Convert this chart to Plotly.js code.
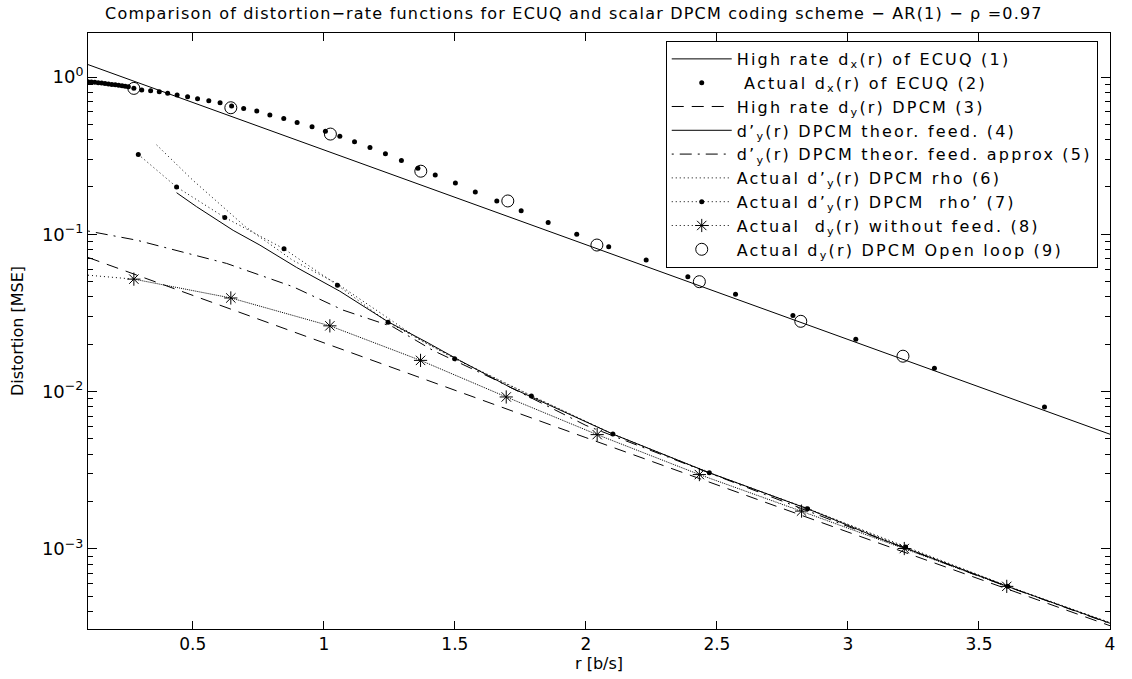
<!DOCTYPE html>
<html><head><meta charset="utf-8">
<script src="https://cdn.plot.ly/plotly-3.0.1.min.js"></script>
<style>
html,body{margin:0;padding:0;background:#fff}
text.legendtext{letter-spacing:2.2px}
text.gtitle{letter-spacing:1.2px}
</style>
</head><body><div id="chart" style="width:1132px;height:679px"></div>
<script>
// (1) High rate d_x(r) of ECUQ
const r1 = [0.1, 1.0, 2.0, 3.0, 4.0];
const d1 = [1.20, 0.344, 0.0861, 0.0215, 0.00536];
// (2) Actual d_x(r) of ECUQ
const r2 = [0.100,0.113,0.126,0.139,0.152,0.165,0.178,0.191,0.204,0.217,0.230,0.242,0.254,0.275,0.305,0.339,0.372,0.404,0.440,0.480,0.518,0.561,0.604,0.648,0.694,0.744,0.794,0.847,0.898,0.955,1.006,1.061,1.117,1.176,1.235,1.296,1.359,1.425,1.502,1.578,1.660,1.753,1.856,1.965,2.087,2.230,2.389,2.571,2.79,3.03,3.33,3.75];
const d2 = [0.935,0.930,0.925,0.920,0.915,0.910,0.904,0.898,0.892,0.886,0.880,0.874,0.867,0.850,0.827,0.818,0.806,0.788,0.768,0.749,0.728,0.707,0.687,0.654,0.632,0.608,0.573,0.546,0.515,0.483,0.452,0.420,0.388,0.357,0.325,0.295,0.263,0.238,0.212,0.186,0.163,0.141,0.119,0.100,0.0834,0.0687,0.0537,0.0416,0.0305,0.0215,0.0141,0.0080];
// (3) High rate d_y(r) DPCM
const r3 = [0.1, 1.0, 2.0, 3.0, 4.0];
const d3 = [0.0713, 0.0204, 0.00510, 0.00128, 0.000325];
// (4) d'_y(r) DPCM theor. feed.
const r4 = [0.438,0.514,0.654,0.756,0.896,1.061,1.245,1.391,1.518,1.709,2.103,2.471,2.846,3.119,3.606,4.0];
const d4 = [0.184,0.150,0.106,0.0854,0.0616,0.0435,0.0278,0.0207,0.0158,0.0107,0.00537,0.00305,0.0018,0.00117,0.00058,0.000337];
// (5) d'_y(r) DPCM theor. feed. approx
const r5 = [0.1,0.286,0.629,0.883,1.073,1.264,1.416,1.645,2.0,2.5,3.0,3.5,4.0];
const d5 = [0.105,0.0918,0.0653,0.0464,0.033,0.0258,0.0183,0.0121,0.0061,0.0029,0.00139,0.00067,0.000335];
// (6) Actual d'_y(r) DPCM rho
const r6 = [0.362,0.50,0.70,0.88,1.05,1.20,1.37,1.55,1.8,2.1,2.47,2.85,3.22,3.61,4.0];
const d6 = [0.37,0.221,0.112,0.0686,0.0487,0.033,0.0212,0.0148,0.0093,0.0054,0.00305,0.0018,0.00102,0.00058,0.00034];
// (7) Actual d'_y(r) DPCM rho'
const r7 = [0.292,0.438,0.622,0.848,1.052,1.245,1.499,1.792,2.103,2.471,2.846,3.22,3.61];
const d7 = [0.322,0.200,0.128,0.0809,0.0475,0.0276,0.0162,0.00938,0.00537,0.00305,0.0018,0.00103,0.00058];
// (8) Actual d_y(r) without feed.
const r8 = [0.275,0.645,1.023,1.369,1.696,2.043,2.433,2.823,3.215,3.606];
const d8 = [0.0519,0.0394,0.0262,0.0158,0.00925,0.00533,0.00297,0.00174,0.001006,0.000578];
const r8Line = [0.1,0.275,0.645,1.023,1.369,1.696,2.043,2.433,2.823,3.215,3.606,4.0];
const d8Line = [0.055,0.0519,0.0394,0.0262,0.0158,0.00925,0.00533,0.00297,0.00174,0.001006,0.000578,0.00034];
// (9) Actual d_y(r) DPCM Open loop
const r9 = [0.275,0.645,1.025,1.370,1.702,2.042,2.433,2.82,3.21];
const d9 = [0.847,0.638,0.434,0.252,0.163,0.0855,0.050,0.028,0.0168];

const xTicks = [0.5,1,1.5,2,2.5,3,3.5,4];
const xTickText = ['0.5','1','1.5','2','2.5','3','3.5','4'];
const yTicks = [1e-3,1e-2,1e-1,1];
const yTickText = ['10<sup>−3</sup>','10<sup>−2</sup>','10<sup>−1</sup>','10<sup>0</sup>'];
const names = [
  'High rate d<sub>x</sub>(r) of ECUQ (1)',
  ' Actual d<sub>x</sub>(r) of ECUQ (2)',
  'High rate d<sub>y</sub>(r) DPCM (3)',
  'd’<sub>y</sub>(r) DPCM theor. feed. (4)',
  'd’<sub>y</sub>(r) DPCM theor. feed. approx (5)',
  'Actual d’<sub>y</sub>(r) DPCM rho (6)',
  'Actual d’<sub>y</sub>(r) DPCM  rho’ (7)',
  'Actual  d<sub>y</sub>(r) without feed. (8)',
  'Actual d<sub>y</sub>(r) DPCM Open loop (9)'
];

const minorVals = [];
for (let e = -4; e <= 0; e++) for (let k = 2; k <= 9; k++) minorVals.push(k * Math.pow(10, e));

const K = '#000';
const FONT = 'DejaVu Sans, sans-serif';
const DOT = '1px,3px';

const traces = [
  {x:r1, y:d1, mode:'lines', name:names[0], line:{color:K, width:1}},
  {x:r2, y:d2, mode:'markers', name:names[1], marker:{symbol:'circle', size:5, color:K}},
  {x:r3, y:d3, mode:'lines', name:names[2], line:{color:K, width:1, dash:'12px,8px'}},
  {x:r4, y:d4, mode:'lines', name:names[3], line:{color:K, width:1}},
  {x:r5, y:d5, mode:'lines', name:names[4], line:{color:K, width:1, dash:'2px,6px,12px,6px'}},
  {x:r6, y:d6, mode:'lines', name:names[5], line:{color:K, width:1, dash:DOT}},
  {x:r7, y:d7, mode:'lines+markers', name:names[6], line:{color:K, width:1, dash:DOT}, marker:{symbol:'circle', size:5, color:K}},
  {x:r8Line, y:d8Line, mode:'lines', showlegend:false, hoverinfo:'skip', line:{color:K, width:1, dash:DOT}},
  {x:r8, y:d8, mode:'lines+markers', name:names[7], line:{color:K, width:1, dash:DOT}, marker:{symbol:'asterisk-open', size:11, color:K, line:{color:K, width:1}}},
  {x:r9, y:d9, mode:'markers', name:names[8], marker:{symbol:'circle-open', size:12, color:K, line:{color:K, width:1}}}
];

const layout = {
  width:1132, height:679,
  margin:{l:88, r:22, t:33, b:50, pad:0},
  paper_bgcolor:'#fff', plot_bgcolor:'#fff',
  font:{family:FONT, size:17, color:K},
  showlegend:true,
  title:{text:'Comparison of distortion−rate functions for ECUQ and scalar DPCM coding scheme − AR(1) − ρ =0.97',
         font:{family:FONT, size:16, color:K}, x:0.507, xanchor:'center', y:0.981, yanchor:'middle'},
  xaxis:{range:[0.1,4], tickmode:'array', tickvals:xTicks, ticktext:xTickText,
         ticks:'inside', ticklen:8, tickwidth:1, tickcolor:K, mirror:'allticks',
         showline:true, linecolor:K, linewidth:1, showgrid:false, zeroline:false,
         tickfont:{family:FONT, size:17, color:K},
         title:{text:'r [b/s]', font:{family:FONT, size:16, color:K}, standoff:4}},
  yaxis:{type:'log', range:[-3.509,0.28], tickmode:'array', tickvals:yTicks, ticktext:yTickText,
         ticks:'inside', ticklen:9, tickwidth:1, tickcolor:K, mirror:'allticks',
         showline:true, linecolor:K, linewidth:1, showgrid:false, zeroline:false,
         tickfont:{family:FONT, size:18, color:K},
         minor:{tickmode:'array', tickvals:minorVals, ticks:'inside', ticklen:5, tickwidth:1, tickcolor:K, showgrid:false},
         title:{text:'Distortion [MSE]', font:{family:FONT, size:16, color:K}, standoff:14}},
  legend:{x:0.988, xanchor:'right', y:0.9866, yanchor:'top', bgcolor:'#fff', bordercolor:K, borderwidth:1,
          font:{family:FONT, size:16, color:K}, itemwidth:60, tracegroupgap:0}
};

Plotly.newPlot('chart', traces, layout, {displayModeBar:false, staticPlot:true});
</script></body></html>
